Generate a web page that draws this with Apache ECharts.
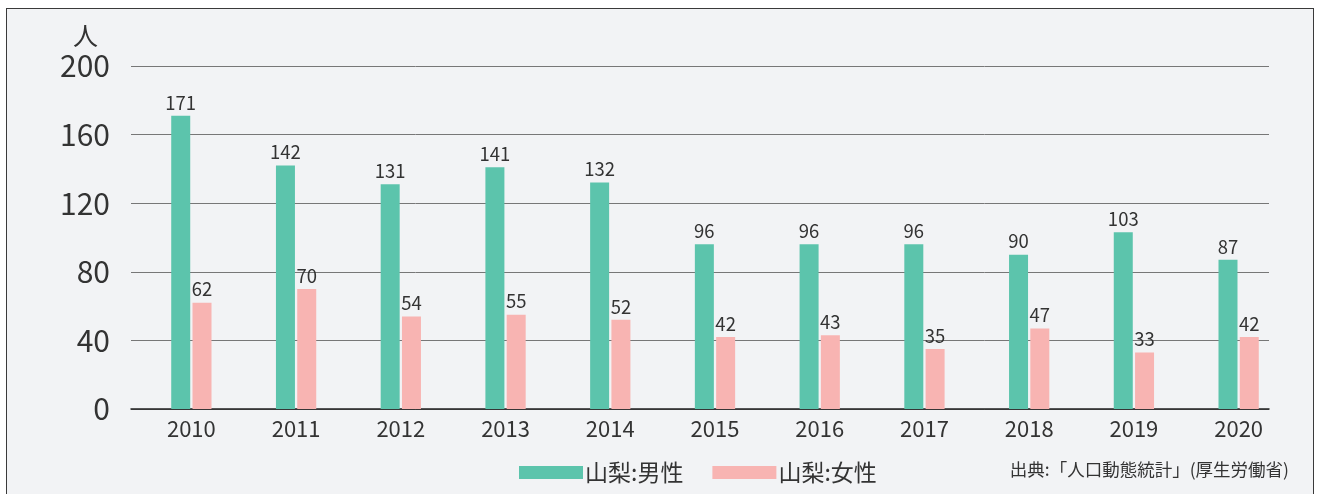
<!DOCTYPE html>
<html>
<head>
<meta charset="utf-8">
<script src="https://cdn.jsdelivr.net/npm/echarts@6/dist/echarts.min.js"></script>
<style>
  html, body { margin: 0; padding: 0; background: #fff; }
  .frame {
    position: absolute; left: 6px; top: 8px; width: 1306px; height: 500px;
    background: #f2f3f5; border: 1.5px solid #3a3a3a; border-bottom: none;
  }
  #chart { position: absolute; left: 0; top: 0; width: 1317px; height: 494px; }
</style>
</head>
<body>
<div class="frame"></div>
<div id="chart"></div>
<script>
// 年
const years = ['2010', '2011', '2012', '2013', '2014', '2015', '2016', '2017', '2018', '2019', '2020']
// 山梨:男性
const maleData = [171, 142, 131, 141, 132, 96, 96, 96, 90, 103, 87]
// 山梨:女性
const femaleData = [62, 70, 54, 55, 52, 42, 43, 35, 47, 33, 42]
// 縦軸
const yTicks = [0, 40, 80, 120, 160, 200]

const font = '"Noto Sans CJK JP", "Noto Sans", sans-serif'
const chart = echarts.init(document.getElementById('chart'))

const labelStyle = {
  show: true,
  position: 'top',
  distance: 4,
  color: '#333',
  fontSize: 18.5,
  fontFamily: font
}

chart.setOption({
  backgroundColor: 'transparent',
  textStyle: { fontFamily: font },
  title: {
    text: '人',
    left: 68,
    top: 18,
    textStyle: { fontSize: 25, fontWeight: 'normal', color: '#333', fontFamily: font }
  },
  graphic: [{
    type: 'text',
    right: 28,
    top: 461,
    style: { text: '出典:「人口動態統計」(厚生労働省)', fontSize: 17.5, fill: '#333', fontFamily: font }
  }],
  legend: {
    left: 514,
    top: 456,
    itemWidth: 64,
    itemHeight: 13,
    itemGap: 29,
    icon: 'rect',
    textStyle: { fontSize: 23, color: '#333', fontFamily: font, padding: [0, 0, 0, -3] },
    data: ['山梨:男性', '山梨:女性']
  },
  grid: [
    { left: 131, width: 1138, top: 66, bottom: 85 },
    { left: 139, width: 1152, top: 66, bottom: 85 }
  ],
  xAxis: [
    {
      gridIndex: 0,
      type: 'category',
      data: years,
      axisLine: { lineStyle: { color: '#222', width: 1.5 } },
      axisTick: { show: false },
      axisLabel: { show: false }
    },
    {
      gridIndex: 1,
      type: 'category',
      data: years,
      axisLine: { show: false },
      axisTick: { show: false },
      axisLabel: { color: '#333', fontSize: 22, margin: 9, fontFamily: font }
    }
  ],
  yAxis: [
    {
      gridIndex: 0,
      type: 'value',
      min: yTicks[0],
      max: yTicks[yTicks.length - 1],
      interval: 40,
      axisLine: { show: false },
      axisTick: { show: false },
      axisLabel: { color: '#333', fontSize: 30, margin: 21, fontFamily: font },
      splitLine: { lineStyle: { color: '#777', width: 1 } }
    },
    {
      gridIndex: 1,
      type: 'value',
      min: yTicks[0],
      max: yTicks[yTicks.length - 1],
      interval: 40,
      show: false,
      splitLine: { show: false }
    }
  ],
  series: [
    {
      name: '山梨:男性',
      type: 'bar',
      xAxisIndex: 1,
      yAxisIndex: 1,
      data: maleData,
      barWidth: 19,
      barGap: '12%',
      itemStyle: { color: '#5cc4ac' },
      label: labelStyle
    },
    {
      name: '山梨:女性',
      type: 'bar',
      xAxisIndex: 1,
      yAxisIndex: 1,
      data: femaleData,
      barWidth: 19,
      itemStyle: { color: '#f8b4b2' },
      label: labelStyle
    }
  ]
})
</script>
</body>
</html>
